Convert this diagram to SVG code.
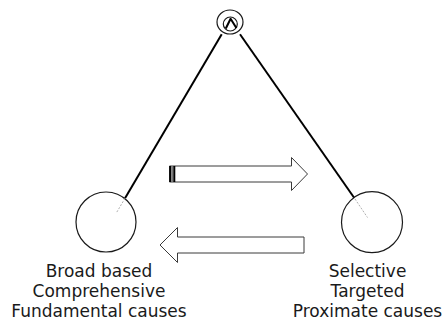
<svg xmlns="http://www.w3.org/2000/svg" width="445" height="327" viewBox="0 0 445 327">
  <style>
    .node { fill: #ffffff; stroke: #1a1a1a; stroke-width: 1.2; }
    .edge { stroke: #000000; stroke-width: 2; fill: none; }
    .hidden { stroke: #b0b0b0; stroke-width: 1; stroke-dasharray: 2 1.5; fill: none; }
    .block { fill: #ffffff; stroke: #3a3a3a; stroke-width: 1; }
    .lbl { font-family: "DejaVu Sans", Verdana, sans-serif; font-size: 17px; fill: #1a1a1a; text-anchor: middle; }
  </style>
  <rect width="445" height="327" fill="#ffffff"/>
  <g id="connectors">
    <line class="edge" x1="221.7" y1="34.3" x2="125" y2="198.3"/>
    <line class="hidden" x1="125" y1="198.3" x2="116.7" y2="212.3"/>
    <line class="edge" x1="240" y1="34.3" x2="355" y2="199"/>
    <line class="hidden" x1="355" y1="199" x2="367.5" y2="217.5"/>
  </g>
  <g id="node-top">
    <ellipse class="node" cx="230" cy="22" rx="13" ry="12"/>
    <circle class="node" cx="230.3" cy="24" r="7"/>
    <polyline points="225.8,28.5 230.6,18.8 236.4,28" fill="none" stroke="#000" stroke-width="2" stroke-linejoin="round"/>
  </g>
  <g id="node-left">
    <circle class="node" cx="106" cy="222" r="30"/>
    <line class="hidden" x1="125" y1="198.3" x2="116.7" y2="212.3"/>
    <text class="lbl" x="99" y="276.5">Broad based</text>
    <text class="lbl" x="99" y="296.5">Comprehensive</text>
    <text class="lbl" x="99" y="316.5">Fundamental causes</text>
  </g>
  <g id="node-right">
    <circle class="node" cx="372" cy="222.2" r="30.5"/>
    <line class="hidden" x1="355" y1="199" x2="367.5" y2="217.5"/>
    <text class="lbl" x="367.5" y="276.5">Selective</text>
    <text class="lbl" x="367.5" y="296.5">Targeted</text>
    <text class="lbl" x="367.5" y="316.5">Proximate causes</text>
  </g>
  <g id="arrow-right">
    <path class="block" d="M169.5,166 L291.5,166 L291.5,157.5 L307.5,174 L291.5,190.5 L291.5,182 L169.5,182 Z"/>
    <rect x="169.3" y="166" width="2" height="16" fill="#000"/>
    <rect x="171.3" y="166" width="2" height="16" fill="#777"/>
    <rect x="173.3" y="166" width="2" height="16" fill="#000"/>
  </g>
  <g id="arrow-left">
    <path class="block" d="M160,245 L177.5,227.5 L177.5,237 L304,237 L304,253 L177.5,253 L177.5,262.5 Z"/>
  </g>
</svg>
